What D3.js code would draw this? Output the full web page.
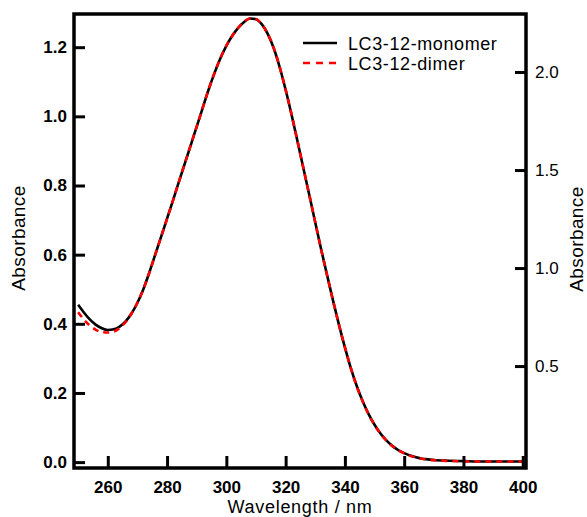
<!DOCTYPE html>
<html>
<head>
<meta charset="utf-8">
<script src="https://cdn.jsdelivr.net/npm/d3@7/dist/d3.min.js"></script>
<style>
  html, body { margin: 0; padding: 0; background: #fff; }
  svg { display: block; }
  text { font-family: "Liberation Sans", Arial, sans-serif; fill: #000; }
</style>
</head>
<body>
<svg id="chart" width="587" height="517"></svg>
<script>
// Wavelength (nm)
const wavelengths = [250,252,254,256,258,260,262,264,266,268,270,272,274,276,278,280,282,284,286,288,290,292,294,296,298,300,302,304,306,308,310,312,314,316,318,320,322,324,326,328,330,332,334,336,338,340,342,344,346,348,350,352,354,356,358,360,362,364,366,368,370,375,380,385,390,395,400];
// LC3-12-monomer, left axis absorbance
const monomer = [0.455,0.432,0.412,0.397,0.387,0.382,0.384,0.392,0.407,0.430,0.461,0.500,0.548,0.600,0.652,0.704,0.757,0.811,0.864,0.917,0.970,1.024,1.077,1.125,1.168,1.204,1.233,1.256,1.273,1.283,1.281,1.266,1.238,1.197,1.142,1.077,1.005,0.928,0.850,0.772,0.693,0.615,0.540,0.467,0.397,0.332,0.272,0.220,0.176,0.139,0.108,0.083,0.063,0.047,0.035,0.026,0.019,0.014,0.010,0.008,0.006,0.004,0.003,0.002,0.002,0.002,0.002];
// LC3-12-dimer, right axis absorbance
const dimer = [0.775,0.736,0.706,0.685,0.673,0.671,0.676,0.694,0.724,0.768,0.823,0.892,0.976,1.068,1.160,1.252,1.345,1.440,1.534,1.628,1.721,1.816,1.910,1.995,2.071,2.134,2.185,2.226,2.256,2.273,2.270,2.243,2.194,2.122,2.025,1.910,1.783,1.647,1.509,1.372,1.232,1.094,0.962,0.833,0.710,0.595,0.489,0.397,0.320,0.254,0.200,0.155,0.120,0.092,0.071,0.055,0.043,0.034,0.027,0.023,0.020,0.016,0.014,0.013,0.013,0.013,0.013];

const xTicks = [260,280,300,320,340,360,380,400];
const yLeftTicks = [0.0,0.2,0.4,0.6,0.8,1.0,1.2];
const yRightTicks = [0.5,1.0,1.5,2.0];
const seriesNames = ["LC3-12-monomer","LC3-12-dimer"];
const xTitle = "Wavelength / nm";
const yTitle = "Absorbance";

const L = 74, R = 526, T = 14, B = 468;
const svg = d3.select("#chart");

const x = d3.scaleLinear().domain([248.6, 401.1]).range([L, R]);
const yL = d3.scaleLinear().domain([-0.017, 1.296]).range([B, T]);
const yR = d3.scaleLinear().domain([-0.02, 2.296]).range([B, T]);

// curves
const lineL = d3.line().x((d,i)=>x(wavelengths[i])).y(d=>yL(d)).curve(d3.curveMonotoneX);
const lineR = d3.line().x((d,i)=>x(wavelengths[i])).y(d=>yR(d)).curve(d3.curveMonotoneX);

svg.append("path").datum(monomer).attr("d", lineL)
  .attr("fill","none").attr("stroke","#000").attr("stroke-width",2.6);
svg.append("path").datum(dimer).attr("d", lineR)
  .attr("fill","none").attr("stroke","#ff0000").attr("stroke-width",2.6)
  .attr("stroke-dasharray","6,5");

// axes
const fontTick = 17;
const gx = svg.append("g").attr("transform",`translate(0,${B})`)
  .call(d3.axisBottom(x).tickValues(xTicks).tickSize(-12).tickPadding(13).tickFormat(d3.format("d")));
const gl = svg.append("g").attr("transform",`translate(${L},0)`)
  .call(d3.axisLeft(yL).tickValues(yLeftTicks).tickSize(-11).tickPadding(7).tickFormat(d3.format(".1f")));
const gr = svg.append("g").attr("transform",`translate(${R},0)`)
  .call(d3.axisRight(yR).tickValues(yRightTicks).tickSize(-11).tickPadding(9).tickFormat(d3.format(".1f")));

[gx, gl, gr].forEach(g => {
  g.select(".domain").remove();
  g.selectAll(".tick line").attr("stroke","#000").attr("stroke-width",3);
  g.selectAll(".tick text").attr("font-family","Liberation Sans, Arial, sans-serif")
    .attr("font-size", fontTick).attr("fill","#000");
});
gx.selectAll(".tick text").attr("font-weight","bold");
gl.selectAll(".tick text").attr("font-weight","bold");
gr.selectAll(".tick text").attr("font-weight","normal");

// frame
svg.append("rect").attr("x",L).attr("y",T).attr("width",R-L).attr("height",B-T)
  .attr("fill","none").attr("stroke","#000").attr("stroke-width",3.5);

// titles
svg.append("text").attr("x",(L+R)/2).attr("y",513).attr("text-anchor","middle")
  .attr("font-size",18).attr("letter-spacing","0.7px").text(xTitle);
svg.append("text").attr("transform","translate(25,238) rotate(-90)").attr("text-anchor","middle")
  .attr("font-size",19).attr("letter-spacing","0.4px").text(yTitle);
svg.append("text").attr("transform","translate(583,239) rotate(-90)").attr("text-anchor","middle")
  .attr("font-size",19).attr("letter-spacing","0.4px").text(yTitle);

// legend
const legend = svg.append("g");
const legY = [43, 63];
legend.append("line").attr("x1",303).attr("x2",337).attr("y1",legY[0]).attr("y2",legY[0])
  .attr("stroke","#000").attr("stroke-width",2.6);
legend.append("line").attr("x1",303).attr("x2",337).attr("y1",legY[1]).attr("y2",legY[1])
  .attr("stroke","#ff0000").attr("stroke-width",2.6).attr("stroke-dasharray","7,6");
seriesNames.forEach((n,i) => {
  legend.append("text").attr("x",348).attr("y",legY[i]+6.5).attr("font-size",18)
    .attr("letter-spacing","0.6px").text(n);
});
</script>
</body>
</html>
